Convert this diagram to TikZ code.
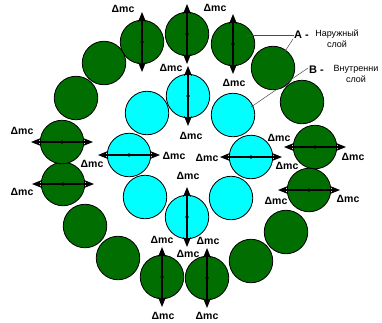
\documentclass[tikz,border=0pt]{standalone}
\usepackage{fontspec}
\setmainfont{Liberation Sans}
\usetikzlibrary{arrows.meta}
\definecolor{dgreen}{RGB}{0,110,0}
\definecolor{aqua}{RGB}{0,255,255}
\tikzset{
  ball/.style={circle,draw=black,line width=0.8pt,minimum size=43.5pt,inner sep=0pt,outer sep=0pt},
  outerball/.style={ball,fill=dgreen},
  innerball/.style={ball,fill=aqua},
  dm/.style={line width=1.2pt,{Stealth[length=10pt,width=8pt]}-{Stealth[length=10pt,width=8pt]}},
  lbl/.style={font=\fontsize{10.5}{12}\selectfont\bfseries,inner sep=0pt},
  leader/.style={draw=black!70,line width=0.5pt},
  legtxt/.style={font=\fontsize{9}{11}\selectfont,inner sep=0pt,align=center,anchor=north},
  legkey/.style={font=\fontsize{11}{13}\selectfont\bfseries,inner sep=0pt,anchor=west},
}
\begin{document}
\begin{tikzpicture}[x=1pt,y=-1pt]
\useasboundingbox[fill=white] (0,0) rectangle (382,322);
% outer ring
\node[outerball] (o1) at (142,42) {};
\node[outerball] (o2) at (187,34) {};
\node[outerball] (o3) at (233,44) {};
\node[outerball] (o4) at (273,68) {};
\node[outerball] (o5) at (302,102) {};
\node[outerball] (o6) at (315,147) {};
\node[outerball] (o7) at (309,190) {};
\node[outerball] (o8) at (286,232) {};
\node[outerball] (o9) at (251,261) {};
\node[outerball] (o10) at (207,278) {};
\node[outerball] (o11) at (162,277) {};
\node[outerball] (o12) at (118,258) {};
\node[outerball] (o13) at (85,226) {};
\node[outerball] (o14) at (63,184) {};
\node[outerball] (o15) at (62,142) {};
\node[outerball] (o16) at (76,98) {};
\node[outerball] (o17) at (104,63) {};
% inner ring
\node[innerball] (i1) at (188,96) {};
\node[innerball] (i2) at (233,115) {};
\node[innerball] (i3) at (251,157) {};
\node[innerball] (i4) at (231,198) {};
\node[innerball] (i5) at (187,217) {};
\node[innerball] (i6) at (145,197) {};
\node[innerball] (i7) at (129,155) {};
\node[innerball] (i8) at (147,113) {};
% arrows
\foreach \n in {o1,o2,o3,o10,o11,i1,i5}{
  \draw[dm] (\n.center) +(0,-30) -- +(0,30);
  \fill (\n.center) circle (1.9pt);
}
\foreach \n in {o6,o7,o14,o15,i3,i7}{
  \draw[dm] (\n.center) +(-31,0) -- +(31,0);
  \fill (\n.center) circle (1.9pt);
}
% labels
\node[lbl] (l1) at (123,9) {Δmc};
\node[lbl] (l2) at (215,8) {Δmc};
\node[lbl] (l3) at (171,68) {Δmc};
\node[lbl] (l4) at (234,83) {Δmc};
\node[lbl] (l5) at (191,136) {Δmc};
\node[lbl] (l6) at (22,131) {Δmc};
\node[lbl] (l7) at (92,164) {Δmc};
\node[lbl] (l8) at (174,156) {Δmc};
\node[lbl] (l9) at (22,192) {Δmc};
\node[lbl] (l10) at (207,158) {Δmc};
\node[lbl] (l11) at (279,138) {Δmc};
\node[lbl] (l12) at (287,166) {Δmc};
\node[lbl] (l13) at (353,157) {Δmc};
\node[lbl] (l14) at (276,201) {Δmc};
\node[lbl] (l15) at (348,199) {Δmc};
\node[lbl] (l16) at (188,176) {Δmc};
\node[lbl] (l17) at (188,254) {Δmc};
\node[lbl] (l18) at (162,240) {Δmc};
\node[lbl] (l19) at (208,241) {Δmc};
\node[lbl] (l20) at (163,316) {Δmc};
\node[lbl] (l21) at (207,316) {Δmc};
% legend
\node[legkey] (A) at (294,35) {A -};
\node[legtxt] (At) at (337,30) {Наружный\\слой};
\node[legkey] (B) at (309,70) {B -};
\node[legtxt] (Bt) at (356,65) {Внутренни\\слой};
\coordinate (pa1) at (246,35);
\coordinate (pa2) at (282,56);
\coordinate (pb1) at (251,107);
\draw[leader] (A.west) -- (pa1);
\draw[leader] ([xshift=-1pt]A.south west) -- (pa2);
\draw[leader] ([xshift=-1pt,yshift=2pt]B.west) -- (pb1);
\end{tikzpicture}
\end{document}
